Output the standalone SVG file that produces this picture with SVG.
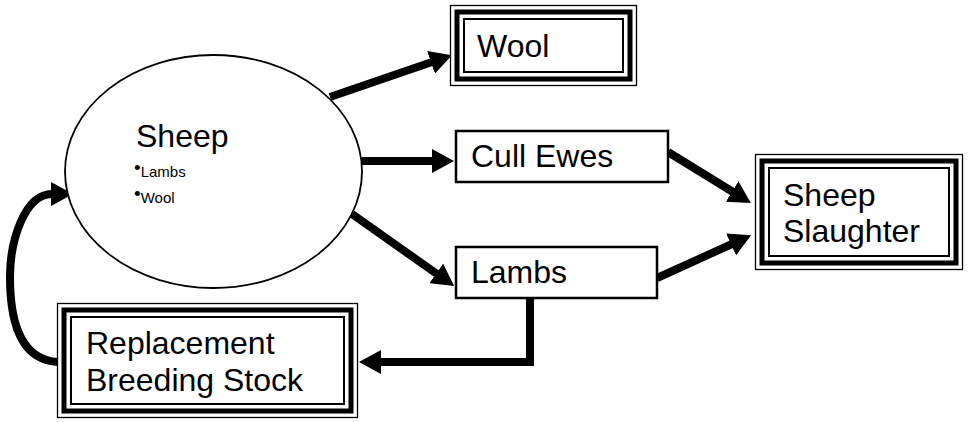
<svg xmlns="http://www.w3.org/2000/svg" width="972" height="422" viewBox="0 0 972 422">
  <style>
    .bg { fill: #ffffff; }
    .lbl { font-family: "Liberation Sans", Arial, sans-serif; font-size: 32px; fill: #000; }
    .sub { font-family: "Liberation Sans", Arial, sans-serif; font-size: 15px; fill: #000; }
    .dot { font-size: 19px; }
    .plain { fill: #fff; stroke: #000; stroke-width: 2.5; }
    .oval { fill: #fff; stroke: #000; stroke-width: 1.8; }
    .b-out { fill: #fff; stroke: #000; stroke-width: 1.3; }
    .b-mid { fill: none; stroke: #000; stroke-width: 5; }
    .b-in { fill: none; stroke: #000; stroke-width: 2; }
    .flow { fill: none; stroke: #000; stroke-width: 8; stroke-linejoin: miter; }
  </style>
  <defs>
    <marker id="head" viewBox="0 0 22 24" refX="1" refY="12" markerWidth="22" markerHeight="24" markerUnits="userSpaceOnUse" orient="auto">
      <path d="M0,0 L22,12 L0,24 z" fill="#000"/>
    </marker>
  </defs>

  <rect class="bg" x="0" y="0" width="972" height="422"/>

  <!-- connectors -->
  <g id="connectors">
    <path class="flow" d="M330,97 L432,62" marker-end="url(#head)"/>
    <path class="flow" d="M362,161 L433,161" marker-end="url(#head)"/>
    <path class="flow" d="M352,214 L437,274" marker-end="url(#head)"/>
    <path class="flow" d="M668,152 L733,192" marker-end="url(#head)"/>
    <path class="flow" d="M657,278 L732,244" marker-end="url(#head)"/>
    <path class="flow" d="M530,298 L530,362 L380,362" marker-end="url(#head)"/>
    <path class="flow" d="M58,362 C20,360 10,320 10,277 C10,240 25,194 52,194" marker-end="url(#head)"/>
  </g>

  <!-- Sheep -->
  <g id="sheep">
    <ellipse class="oval" cx="213.5" cy="171.5" rx="148.5" ry="116.5"/>
    <text class="lbl" x="136" y="147">Sheep</text>
    <text class="sub" x="134" y="177"><tspan class="dot" dy="-3">•</tspan><tspan dy="3">Lambs</tspan></text>
    <text class="sub" x="134" y="203"><tspan class="dot" dy="-3">•</tspan><tspan dy="3">Wool</tspan></text>
  </g>

  <!-- Wool -->
  <g id="wool">
    <rect class="b-out" x="450.5" y="5.5" width="186" height="80"/>
    <rect class="b-mid" x="457" y="12" width="173" height="67"/>
    <rect class="b-in" x="464" y="19" width="159" height="53"/>
    <text class="lbl" x="477" y="57">Wool</text>
  </g>

  <!-- Cull Ewes -->
  <g id="cull-ewes">
    <rect class="plain" x="456" y="131" width="212" height="51"/>
    <text class="lbl" x="471" y="167">Cull Ewes</text>
  </g>

  <!-- Lambs -->
  <g id="lambs">
    <rect class="plain" x="456" y="247" width="201" height="51"/>
    <text class="lbl" x="471" y="283">Lambs</text>
  </g>

  <!-- Sheep Slaughter -->
  <g id="sheep-slaughter">
    <rect class="b-out" x="755.5" y="154.5" width="207" height="115"/>
    <rect class="b-mid" x="762" y="161" width="194" height="102"/>
    <rect class="b-in" x="769" y="168" width="180" height="88"/>
    <text class="lbl" x="783" y="206">Sheep</text>
    <text class="lbl" x="783" y="242">Slaughter</text>
  </g>

  <!-- Replacement Breeding Stock -->
  <g id="replacement">
    <rect class="b-out" x="57.5" y="303.5" width="300" height="114"/>
    <rect class="b-mid" x="64" y="310" width="287" height="101"/>
    <rect class="b-in" x="71" y="317" width="273" height="87"/>
    <text class="lbl" x="86" y="354">Replacement</text>
    <text class="lbl" x="86" y="391">Breeding Stock</text>
  </g>
</svg>
